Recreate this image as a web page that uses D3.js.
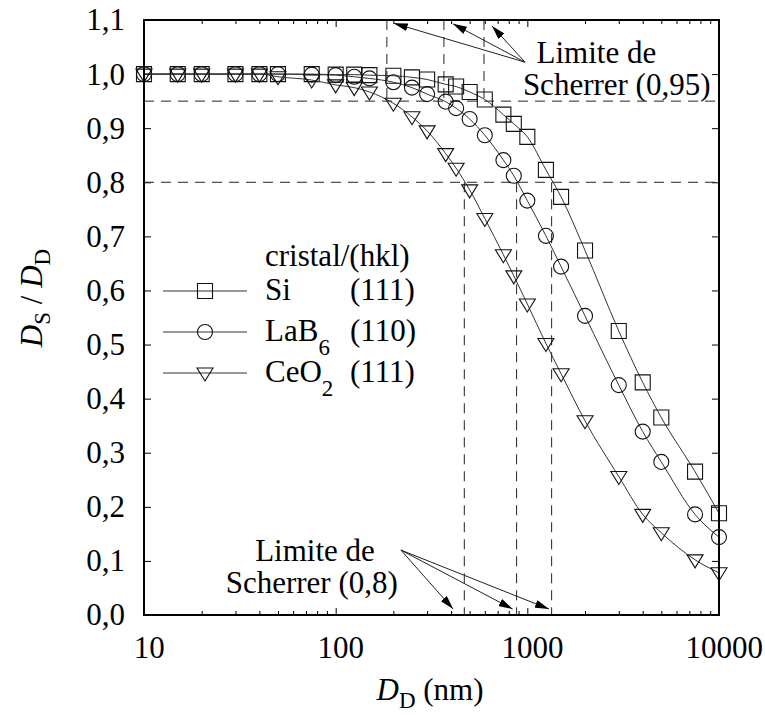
<!DOCTYPE html>
<html>
<head>
<meta charset="utf-8">
<script src="https://cdn.jsdelivr.net/npm/d3@7"></script>
<style>
body { margin: 0; background: #fff; }
</style>
</head>
<body>
<div id="chart"></div>
<script>
// D_D (nm) values shared by all three series
var dd = [10, 15, 20, 30, 40, 50, 75, 100, 125, 150, 200, 250, 300, 375, 425, 500, 600, 750, 850, 1000, 1250, 1500, 2000, 3000, 4000, 5000, 7500, 10000];
// D_S / D_D per crystal
var si   = [1, 1, 1, 1, 1, 1, 1, 0.999, 0.999, 0.998, 0.997, 0.994, 0.99, 0.981, 0.977, 0.967, 0.953, 0.925, 0.908, 0.884, 0.823, 0.773, 0.674, 0.525, 0.43, 0.365, 0.265, 0.188];
var lab6 = [1, 1, 1, 1, 1, 1, 0.999, 0.998, 0.995, 0.992, 0.985, 0.975, 0.963, 0.949, 0.937, 0.917, 0.887, 0.841, 0.812, 0.766, 0.701, 0.644, 0.553, 0.425, 0.339, 0.283, 0.186, 0.144];
var ceo2 = [1, 1, 1, 1, 1, 0.995, 0.989, 0.98, 0.975, 0.967, 0.946, 0.921, 0.895, 0.853, 0.826, 0.786, 0.733, 0.666, 0.627, 0.575, 0.502, 0.446, 0.359, 0.256, 0.186, 0.152, 0.102, 0.078];

var seriesNames = ["Si", "LaB6", "CeO2"];
var seriesHkl = ["(111)", "(110)", "(111)"];

var yTicks = [0, 0.1, 0.2, 0.3, 0.4, 0.5, 0.6, 0.7, 0.8, 0.9, 1.0, 1.1];
var xMajor = [10, 100, 1000, 10000];

// Scherrer limits: D_D where each curve crosses 0.95 and 0.8 (CeO2, LaB6, Si)
var limit095 = [185, 367, 594];
var limit08 = [469, 879, 1339];

// arrows: tail then heads, in data coordinates
var arrowsTop = { tail: [973, 1.022], heads: [[201, 1.094], [409, 1.093], [654, 1.089]] };
var arrowsBottom = { tail: [219, 0.12], heads: [[410, 0.011], [838, 0.011], [1297, 0.011]] };

var W = 765, H = 715;
var FONT = "'Liberation Serif', Tinos, 'Times New Roman'";
var fs = 31, fsSub = 23;

var svg = d3.select("#chart").append("svg")
    .attr("width", W)
    .attr("height", H)
    .attr("font-family", FONT);

var x = d3.scaleLog().domain([10, 10000]).range([144, 719]);
var y = d3.scaleLinear().domain([0, 1.1]).range([615, 20]);

var xMinor = [];
[10, 100, 1000].forEach(function (dec) {
    for (var k = 2; k <= 9; k++) xMinor.push(dec * k);
});

var fmtY = function (d) { return d3.format(".1f")(d).replace(".", ","); };

// arrow head
svg.append("defs").append("marker")
    .attr("id", "head")
    .attr("viewBox", "0 0 14 8")
    .attr("refX", 14)
    .attr("refY", 4)
    .attr("markerUnits", "userSpaceOnUse")
    .attr("markerWidth", 14)
    .attr("markerHeight", 8)
    .attr("orient", "auto")
    .append("path")
    .attr("d", "M0,0 L14,4 L0,8 Z")
    .attr("fill", "#000");

// bottom axis
var gx = svg.append("g")
    .attr("transform", "translate(0," + y(0) + ")")
    .call(d3.axisBottom(x).tickValues(xMajor).tickSize(-7).tickPadding(21).tickFormat(d3.format("d")));
svg.append("g")
    .attr("transform", "translate(0," + y(0) + ")")
    .call(d3.axisBottom(x).tickValues(xMinor).tickSize(-4).tickFormat(""));

// top axis
svg.append("g")
    .attr("transform", "translate(0," + y(1.1) + ")")
    .call(d3.axisTop(x).tickValues(xMajor).tickSize(-7).tickFormat(""));
svg.append("g")
    .attr("transform", "translate(0," + y(1.1) + ")")
    .call(d3.axisTop(x).tickValues(xMinor).tickSize(-4).tickFormat(""));

// left axis
var gy = svg.append("g")
    .attr("transform", "translate(" + x(10) + ",0)")
    .call(d3.axisLeft(y).tickValues(yTicks).tickSize(-7).tickPadding(19).tickFormat(fmtY));

// right axis
svg.append("g")
    .attr("transform", "translate(" + x(10000) + ",0)")
    .call(d3.axisRight(y).tickValues(yTicks).tickSize(-7).tickFormat(""));

svg.selectAll("g").attr("font-family", FONT).attr("font-size", fs);
gx.selectAll("text").attr("dx", "0.15em");
svg.selectAll(".tick text")
    .attr("font-family", FONT)
    .attr("font-size", fs)
    .attr("fill", "#000");
svg.selectAll(".domain").remove();
svg.selectAll(".tick line").attr("stroke", "#000").attr("stroke-width", 1);

// dashed guide lines
var dash = "10,7";
[0.95, 0.8].forEach(function (v) {
    svg.append("line")
        .attr("x1", x(10)).attr("x2", x(10000))
        .attr("y1", y(v)).attr("y2", y(v))
        .attr("stroke", "#222").attr("stroke-width", 1)
        .attr("stroke-dasharray", dash);
});
limit095.forEach(function (v) {
    svg.append("line")
        .attr("x1", x(v)).attr("x2", x(v))
        .attr("y1", y(1.1)).attr("y2", y(0.95))
        .attr("stroke", "#222").attr("stroke-width", 1)
        .attr("stroke-dasharray", dash);
});
limit08.forEach(function (v) {
    svg.append("line")
        .attr("x1", x(v)).attr("x2", x(v))
        .attr("y1", y(0.8)).attr("y2", y(0))
        .attr("stroke", "#222").attr("stroke-width", 1)
        .attr("stroke-dasharray", dash);
});

// symbols
function symbolPath(i) {
    if (i === 0) return d3.symbol().type(d3.symbolSquare).size(225)();
    if (i === 1) return d3.symbol().type(d3.symbolCircle).size(177)();
    return "M-8,-5L8,-5L0,8Z";
}

var line = d3.line()
    .x(function (d) { return x(d[0]); })
    .y(function (d) { return y(d[1]); })
    .curve(d3.curveMonotoneX);

[si, lab6, ceo2].forEach(function (vals, i) {
    var pts = dd.map(function (d, j) { return [d, vals[j]]; });
    svg.append("path")
        .datum(pts)
        .attr("d", line)
        .attr("fill", "none")
        .attr("stroke", "#333")
        .attr("stroke-width", 1);
    svg.selectAll(".pt" + i)
        .data(pts)
        .enter()
        .append("path")
        .attr("class", "pt" + i)
        .attr("d", symbolPath(i))
        .attr("transform", function (d) { return "translate(" + x(d[0]) + "," + y(d[1]) + ")"; })
        .attr("fill", "none")
        .attr("stroke", "#111")
        .attr("stroke-width", 1.1);
});

// frame
svg.append("rect")
    .attr("x", x(10)).attr("y", y(1.1))
    .attr("width", x(10000) - x(10))
    .attr("height", y(0) - y(1.1))
    .attr("fill", "none")
    .attr("stroke", "#000")
    .attr("stroke-width", 2);

// arrows
[arrowsTop, arrowsBottom].forEach(function (a) {
    a.heads.forEach(function (h) {
        svg.append("line")
            .attr("x1", x(a.tail[0])).attr("y1", y(a.tail[1]))
            .attr("x2", x(h[0])).attr("y2", y(h[1]))
            .attr("stroke", "#222").attr("stroke-width", 1)
            .attr("marker-end", "url(#head)");
    });
});

// annotation text
function addText(xv, yv, str, anchor) {
    svg.append("text")
        .attr("x", x(xv)).attr("y", y(yv))
        .attr("text-anchor", anchor)
        .attr("font-family", FONT)
        .attr("font-size", fs)
        .text(str);
}
addText(1117, 1.02, "Limite de", "start");
addText(948, 0.961, "Scherrer (0,95)", "start");
addText(78, 0.1, "Limite de", "middle");
addText(75, 0.041, "Scherrer (0,8)", "middle");

// legend
var legend = svg.append("g");
legend.append("text")
    .attr("x", 265).attr("y", 266)
    .attr("font-family", FONT)
    .attr("font-size", fs)
    .text("cristal/(hkl)");

seriesNames.forEach(function (name, i) {
    var by = 300 + i * 41;
    legend.append("line")
        .attr("x1", 163).attr("x2", 247)
        .attr("y1", by - 9).attr("y2", by - 9)
        .attr("stroke", "#333").attr("stroke-width", 1);
    legend.append("path")
        .attr("d", symbolPath(i))
        .attr("transform", "translate(205," + (by - 9) + ")")
        .attr("fill", "none").attr("stroke", "#111").attr("stroke-width", 1.1);
    var t = legend.append("text")
        .attr("x", 265).attr("y", by)
        .attr("font-family", FONT)
        .attr("font-size", fs);
    var m = name.match(/^([A-Za-z]+?)(\d*)$/);
    t.append("tspan").text(m[1]);
    if (m[2]) {
        t.append("tspan").attr("dy", 14).attr("font-size", fsSub).text(m[2]);
    }
    legend.append("text")
        .attr("x", 350).attr("y", by)
        .attr("font-family", FONT)
        .attr("font-size", fs)
        .text(seriesHkl[i]);
});

// axis titles
var xt = svg.append("text")
    .attr("x", 430).attr("y", 700)
    .attr("text-anchor", "middle")
    .attr("font-family", FONT)
    .attr("font-size", fs);
xt.append("tspan").attr("font-style", "italic").text("D");
xt.append("tspan").attr("dy", 8).attr("font-size", fsSub).text("D");
xt.append("tspan").attr("dy", -8).text(" (nm)");

var yt = svg.append("text")
    .attr("transform", "translate(42,298) rotate(-90)")
    .attr("text-anchor", "middle")
    .attr("font-family", FONT)
    .attr("font-size", fs);
yt.append("tspan").attr("font-style", "italic").text("D");
yt.append("tspan").attr("dy", 8).attr("font-size", fsSub).text("S");
yt.append("tspan").attr("dy", -8).text(" / ");
yt.append("tspan").attr("font-style", "italic").text("D");
yt.append("tspan").attr("dy", 8).attr("font-size", fsSub).text("D");
</script>
</body>
</html>
